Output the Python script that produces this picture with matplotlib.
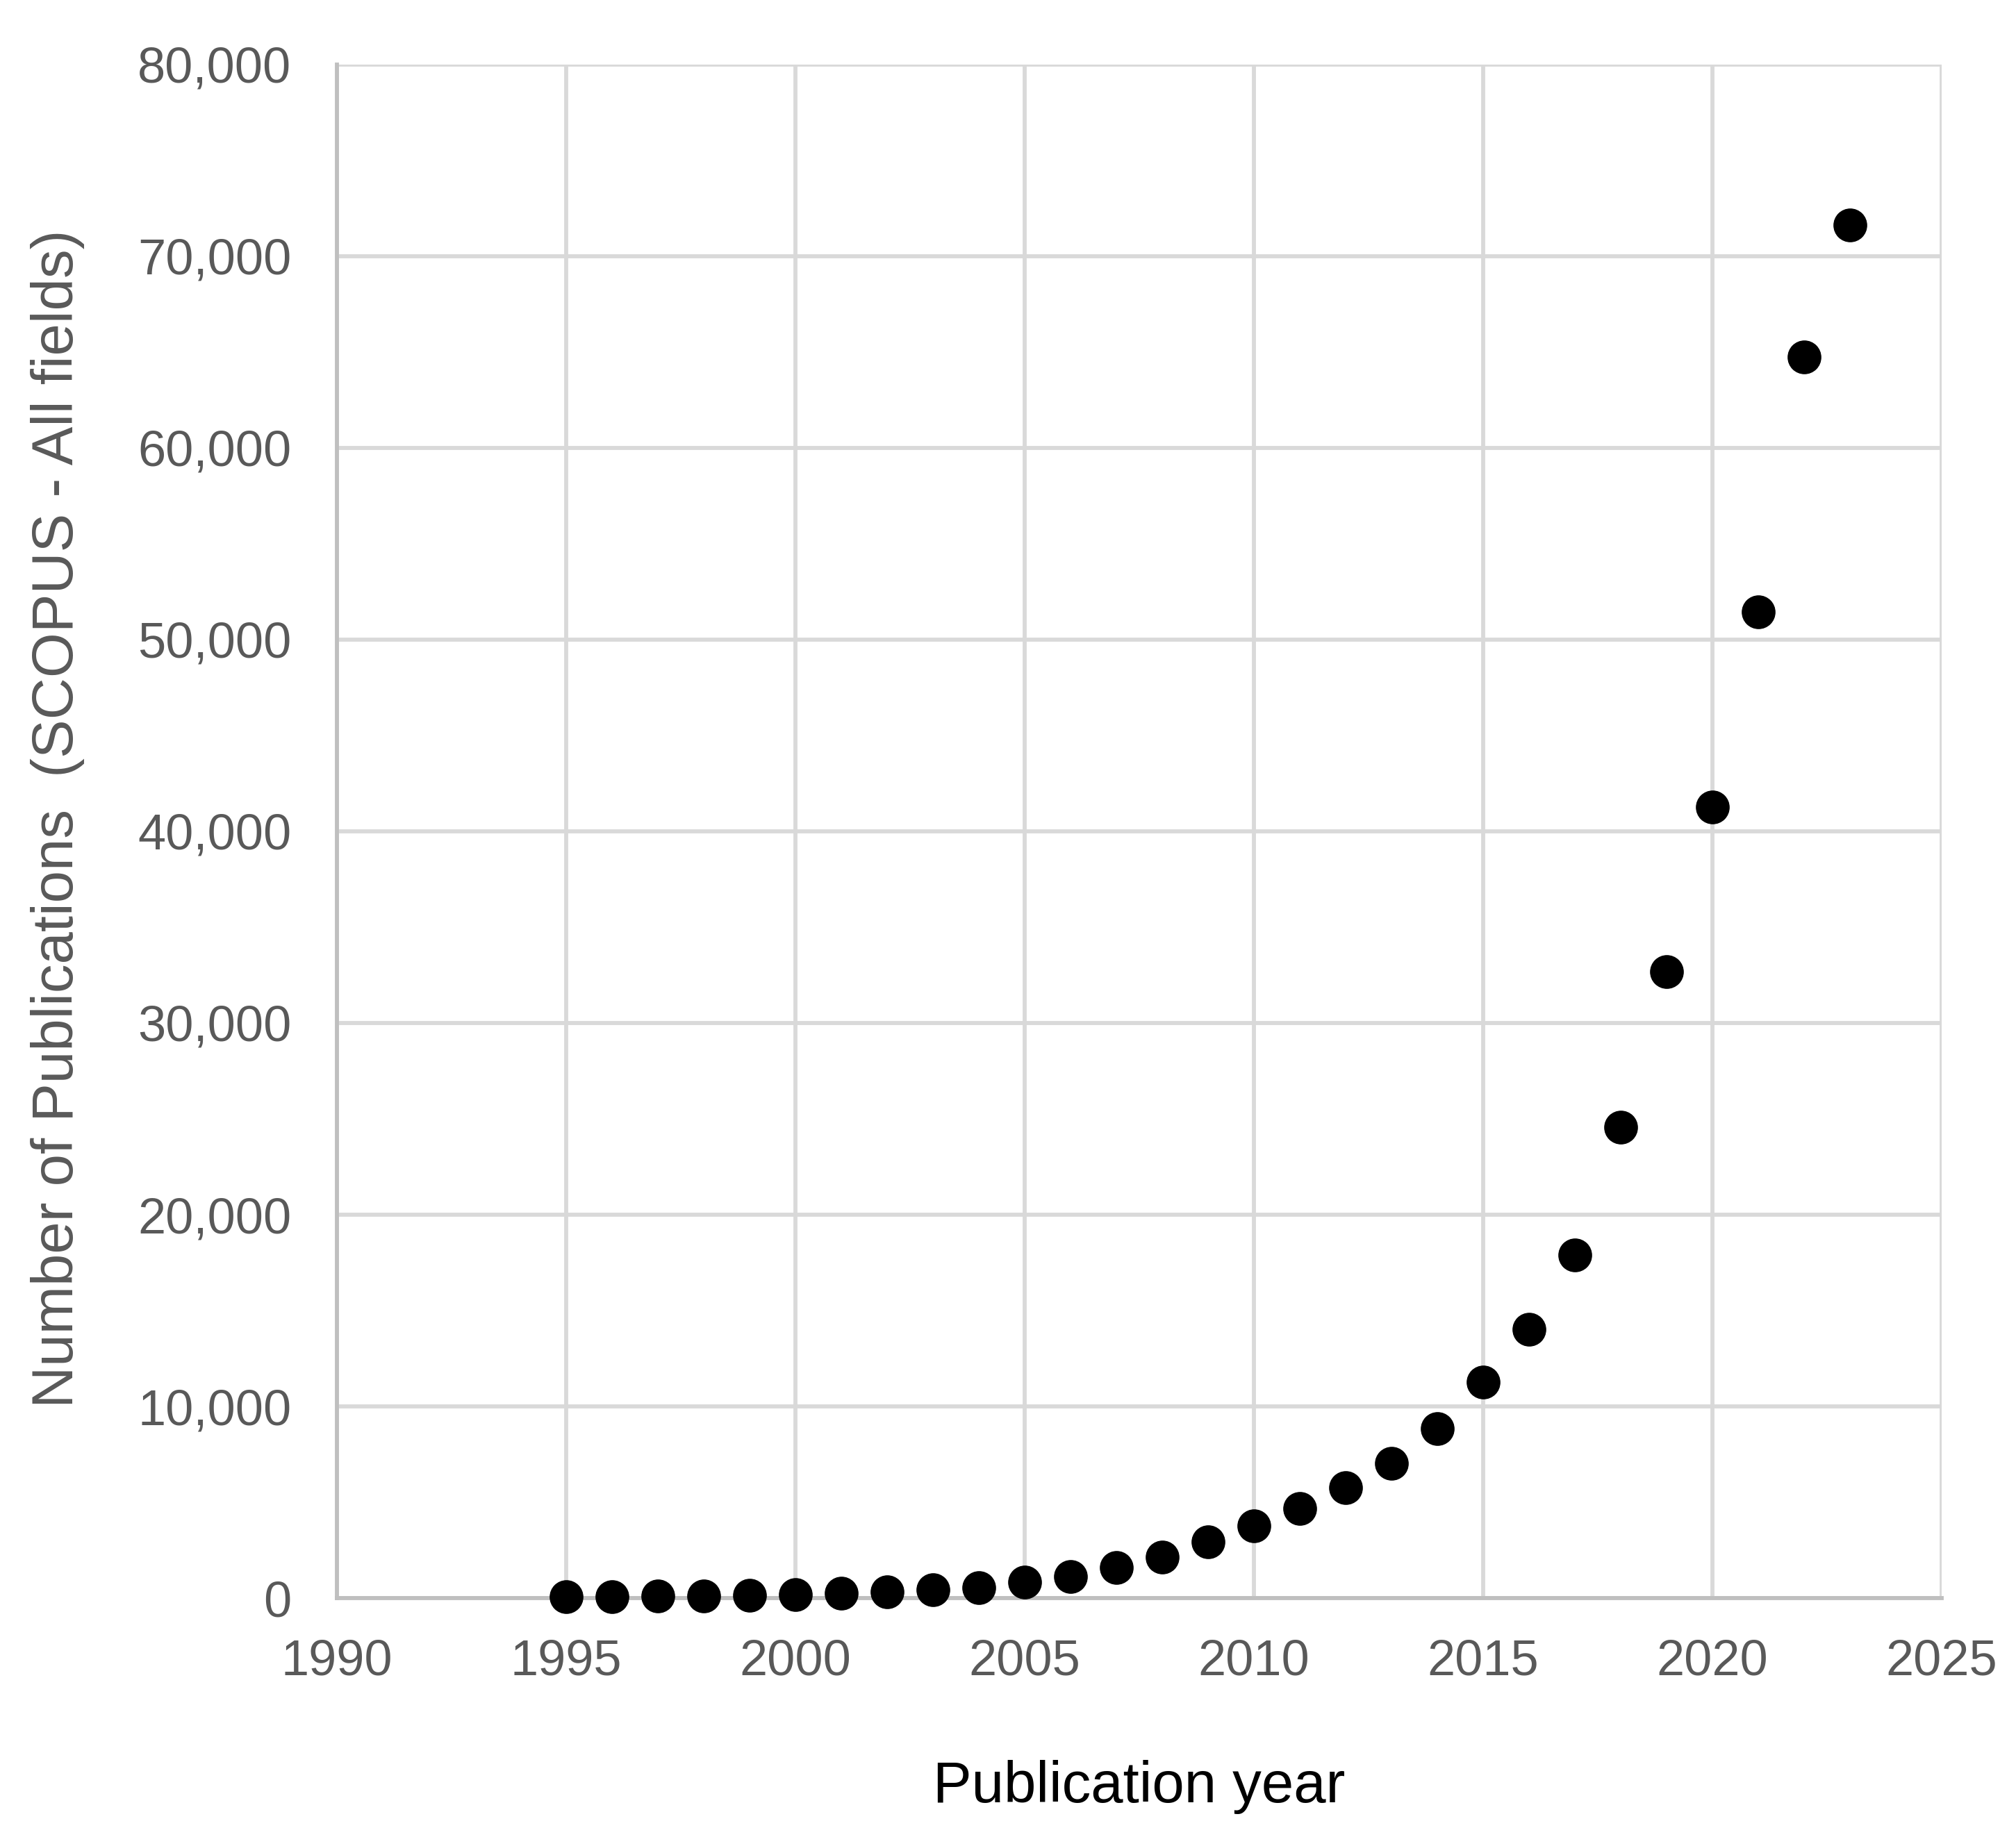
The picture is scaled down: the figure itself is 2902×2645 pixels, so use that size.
"""
Number of publications per year (SCOPUS, all fields) as a dot plot.
"""

import matplotlib
matplotlib.use("Agg")
import matplotlib.pyplot as plt
from matplotlib.ticker import FuncFormatter

YEARS = list(range(1995, 2024))
PUBLICATIONS = [
    60, 80, 100, 130, 160, 200, 250, 320, 430, 560,
    850, 1140, 1610, 2150, 2950, 3760, 4690, 5770, 7040, 8850,
    11270, 14020, 17910, 24550, 32660, 41250, 51440, 64720, 71630,
]
X_TICKS = [1990, 1995, 2000, 2005, 2010, 2015, 2020, 2025]
Y_TICKS = [0, 10000, 20000, 30000, 40000, 50000, 60000, 70000, 80000]

GRID_COLOR = "#d9d9d9"
AXIS_COLOR = "#bfbfbf"
TEXT_COLOR = "#595959"

plt.rcParams["font.family"] = ["Liberation Sans", "DejaVu Sans"]


def main() -> None:
    fig = plt.figure(figsize=(29.02, 26.45), dpi=100)
    ax = fig.add_axes([0.167, 0.130, 0.796, 0.835])

    ax.plot(YEARS, PUBLICATIONS, linestyle="none", marker="o",
            markersize=34, color="black", zorder=3, clip_on=False)

    ax.set_xlim(1990, 2025)
    ax.set_ylim(0, 80000)
    ax.set_xticks(X_TICKS)
    ax.set_yticks(Y_TICKS)
    ax.yaxis.set_major_formatter(FuncFormatter(lambda v, _: f"{int(v):,}"))

    ax.grid(True, color=GRID_COLOR, linewidth=4.2)
    ax.set_axisbelow(True)
    for side in ("top", "right"):
        ax.spines[side].set_visible(False)
    for side in ("left", "bottom"):
        ax.spines[side].set_color(AXIS_COLOR)
        ax.spines[side].set_linewidth(4.2)

    ax.tick_params(axis="both", length=0, labelsize=52, labelcolor=TEXT_COLOR)
    ax.tick_params(axis="x", pad=42)
    ax.tick_params(axis="y", pad=47)

    ax.set_xlabel("Publication year", fontsize=60, color="black")
    ax.set_ylabel("Number of Publications  (SCOPUS - All fields)",
                  fontsize=60, color=TEXT_COLOR)
    ax.xaxis.label.set_va("center")
    ax.yaxis.label.set_va("center")
    ax.xaxis.set_label_coords(0.5, -0.123)
    ax.yaxis.set_label_coords(-0.174, 0.508)

    fig.savefig("out.png", dpi=100)
    plt.close(fig)


if __name__ == "__main__":
    main()
